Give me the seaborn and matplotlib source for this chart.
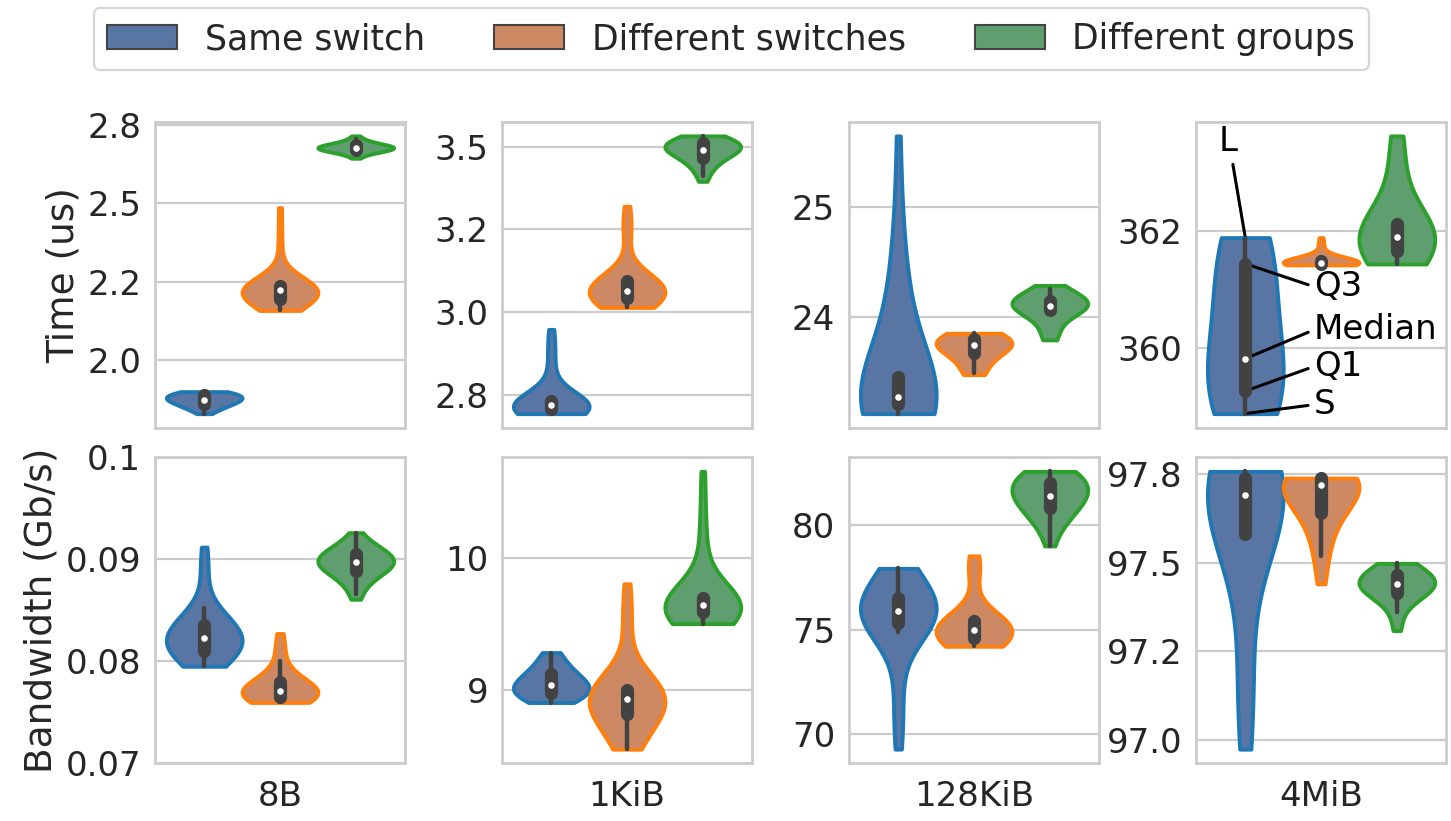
import numpy as np
import pandas as pd
import matplotlib
matplotlib.use("Agg")
import matplotlib.pyplot as plt
import matplotlib.cbook as cbook
from matplotlib.patches import Patch
import seaborn as sns

groups = ["Same switch", "Different switches", "Different groups"]
sizes = ["8B", "1KiB", "128KiB", "4MiB"]
metrics = ["Time (us)", "Bandwidth (Gb/s)"]

# Measured samples as (value, number of runs) pairs
time_8b_same = [(1.831, 1), (1.842, 2), (1.852, 3), (1.861, 3), (1.869, 4), (1.876, 4),
                (1.882, 3), (1.887, 3), (1.892, 3), (1.897, 3), (1.901, 2)]
time_8b_diff_sw = [(2.159, 2), (2.17, 2), (2.182, 3), (2.195, 3), (2.207, 4), (2.218, 4),
                   (2.228, 6), (2.236, 5), (2.245, 4), (2.33, 1), (2.40, 1), (2.486, 1)]
time_8b_diff_grp = [(2.643, 1), (2.655, 2), (2.663, 3), (2.669, 5), (2.674, 6), (2.679, 6),
                    (2.685, 5), (2.692, 3), (2.703, 2), (2.714, 1)]

time_1k_same = [(2.695, 3), (2.702, 4), (2.708, 4), (2.714, 4), (2.72, 4), (2.726, 4),
                (2.732, 3), (2.738, 2), (2.79, 1), (2.83, 1), (2.87, 1), (2.91, 1), (2.949, 1)]
time_1k_diff_sw = [(3.015, 2), (3.025, 3), (3.035, 3), (3.045, 4), (3.055, 4), (3.065, 4),
                   (3.075, 4), (3.085, 3), (3.095, 3), (3.105, 3), (3.22, 1), (3.25, 1),
                   (3.28, 1), (3.32, 1)]
time_1k_diff_grp = [(3.395, 1), (3.41, 1), (3.43, 2), (3.45, 3), (3.465, 3), (3.478, 4),
                    (3.49, 5), (3.50, 6), (3.51, 5), (3.52, 4), (3.532, 3)]

time_128k_same = [(23.118, 3), (23.15, 3), (23.18, 4), (23.21, 4), (23.24, 4), (23.27, 3),
                  (23.30, 3), (23.33, 3), (23.36, 2), (23.40, 1), (23.45, 1), (23.85, 1),
                  (23.95, 1), (24.05, 1), (24.12, 1), (24.2, 1), (24.3, 1), (24.45, 1),
                  (24.7, 1), (25.1, 1), (25.648, 1)]
time_128k_diff_sw = [(23.473, 1), (23.49, 2), (23.51, 2), (23.55, 1), (23.60, 1), (23.64, 2),
                     (23.68, 3), (23.71, 4), (23.74, 4), (23.77, 5), (23.80, 5), (23.83, 4),
                     (23.85, 2)]
time_128k_diff_grp = [(23.79, 1), (23.82, 2), (23.86, 1), (23.91, 1), (23.94, 1), (24.05, 3),
                      (24.08, 4), (24.10, 5), (24.12, 5), (24.14, 4), (24.17, 3), (24.21, 2),
                      (24.25, 2), (24.286, 1)]

time_4m_same = [(358.89, 2), (359.0, 3), (359.1, 3), (359.2, 2), (359.3, 3), (359.45, 3),
                (359.6, 2), (359.75, 2), (359.9, 1), (360.1, 1), (360.3, 1), (360.5, 1),
                (360.7, 1), (360.9, 1), (361.05, 1), (361.2, 1), (361.32, 1), (361.42, 1),
                (361.5, 2), (361.6, 2), (361.7, 2), (361.8, 2), (361.885, 2)]
time_4m_diff_sw = [(361.42, 6), (361.44, 8), (361.46, 8), (361.48, 6), (361.5, 4), (361.55, 2),
                   (361.6, 1), (361.7, 1), (361.8, 1), (361.885, 1)]
time_4m_diff_grp = [(361.436, 2), (361.5, 2), (361.58, 3), (361.66, 3), (361.74, 3),
                    (361.82, 3), (361.9, 3), (361.97, 3), (362.04, 3), (362.11, 3),
                    (362.18, 3), (362.85, 1), (363.0, 1), (363.2, 1), (363.4, 1), (363.615, 2)]

bw_8b_same = [(0.0795, 2), (0.0800, 2), (0.0805, 3), (0.0810, 3), (0.0815, 4), (0.0820, 4),
              (0.0825, 4), (0.0830, 3), (0.0836, 3), (0.0842, 2), (0.0848, 2), (0.0852, 1),
              (0.0880, 1), (0.0895, 1), (0.0912, 1)]
bw_8b_diff_sw = [(0.07595, 3), (0.0762, 4), (0.0765, 4), (0.0768, 4), (0.0771, 4), (0.0774, 3),
                 (0.0777, 3), (0.0781, 2), (0.0786, 2), (0.0792, 1), (0.0800, 1), (0.0809, 1),
                 (0.0818, 1), (0.08272, 1)]
bw_8b_diff_grp = [(0.08608, 1), (0.0866, 1), (0.0872, 1), (0.0878, 2), (0.0884, 3), (0.0889, 4),
                  (0.0893, 4), (0.0897, 5), (0.0901, 5), (0.0905, 4), (0.0909, 3), (0.0913, 2),
                  (0.0918, 2), (0.09262, 1)]

bw_1k_same = [(8.905, 2), (8.93, 3), (8.95, 3), (8.98, 4), (9.01, 4), (9.04, 4), (9.07, 3),
              (9.10, 3), (9.14, 3), (9.18, 2), (9.23, 2), (9.283, 2)]
bw_1k_diff_sw = [(8.552, 2), (8.62, 2), (8.69, 2), (8.76, 3), (8.82, 3), (8.88, 3), (8.93, 4),
                 (8.97, 5), (9.0, 5), (9.03, 4), (9.40, 1), (9.52, 1), (9.66, 1), (9.804, 1)]
bw_1k_diff_grp = [(9.502, 2), (9.53, 3), (9.56, 3), (9.59, 4), (9.62, 4), (9.645, 4), (9.67, 4),
                  (9.70, 3), (9.72, 3), (9.95, 1), (10.05, 1), (10.2, 1), (10.4, 1),
                  (10.655, 1)]

bw_128k_same = [(69.30, 1), (70.2, 1), (71.2, 1), (72.2, 1), (73.1, 1), (74.9, 2), (75.1, 2),
                (75.3, 3), (75.5, 3), (75.7, 3), (75.9, 3), (76.1, 3), (76.3, 3), (76.5, 2),
                (76.8, 2), (77.2, 2), (77.6, 2), (77.93, 2)]
bw_128k_diff_sw = [(74.21, 3), (74.4, 3), (74.6, 4), (74.8, 4), (75.0, 4), (75.2, 4), (75.4, 3),
                   (75.6, 3), (77.6, 1), (77.9, 1), (78.2, 1), (78.53, 1)]
bw_128k_diff_grp = [(79.0, 1), (79.5, 1), (80.0, 2), (80.4, 3), (80.8, 3), (81.1, 4), (81.4, 4),
                    (81.7, 4), (82.0, 4), (82.3, 4), (82.56, 4)]

bw_4m_same = [(96.973, 1), (97.04, 1), (97.1, 1), (97.16, 1), (97.22, 1), (97.28, 1),
              (97.57, 3), (97.61, 3), (97.65, 3), (97.69, 4), (97.72, 5), (97.74, 5),
              (97.758, 5)]
bw_4m_diff_sw = [(97.44, 1), (97.48, 1), (97.52, 1), (97.56, 2), (97.60, 2), (97.64, 3),
                 (97.67, 3), (97.70, 4), (97.72, 6), (97.739, 12)]
bw_4m_diff_grp = [(97.308, 1), (97.33, 1), (97.36, 1), (97.39, 2), (97.41, 4), (97.425, 5),
                  (97.44, 6), (97.455, 5), (97.47, 4), (97.485, 3), (97.498, 2)]

# Y tick positions and labels per panel (row-major)
yticks = [[2.0, 2.25, 2.5, 2.75], [2.75, 3.0, 3.25, 3.5], [24, 25], [360, 362],
          [0.07, 0.08, 0.09, 0.1], [9, 10], [70, 75, 80], [97.0, 97.25, 97.5, 97.75]]
yticklabels = [["2.0", "2.2", "2.5", "2.8"], ["2.8", "3.0", "3.2", "3.5"], ["24", "25"],
               ["360", "362"], ["0.07", "0.08", "0.09", "0.1"], ["9", "10"],
               ["70", "75", "80"], ["97.0", "97.2", "97.5", "97.8"]]
ylims = [None, None, None, None, (0.07, 0.1), None, None, None]
# KDE bandwidth multiplier per panel
bw_adjusts = [1.4, 1.4, 1.7, 1.8, 1.4, 1.4, 1.4, 1.6]

panels = {
    ("Time (us)", "8B"): [time_8b_same, time_8b_diff_sw, time_8b_diff_grp],
    ("Time (us)", "1KiB"): [time_1k_same, time_1k_diff_sw, time_1k_diff_grp],
    ("Time (us)", "128KiB"): [time_128k_same, time_128k_diff_sw, time_128k_diff_grp],
    ("Time (us)", "4MiB"): [time_4m_same, time_4m_diff_sw, time_4m_diff_grp],
    ("Bandwidth (Gb/s)", "8B"): [bw_8b_same, bw_8b_diff_sw, bw_8b_diff_grp],
    ("Bandwidth (Gb/s)", "1KiB"): [bw_1k_same, bw_1k_diff_sw, bw_1k_diff_grp],
    ("Bandwidth (Gb/s)", "128KiB"): [bw_128k_same, bw_128k_diff_sw, bw_128k_diff_grp],
    ("Bandwidth (Gb/s)", "4MiB"): [bw_4m_same, bw_4m_diff_sw, bw_4m_diff_grp],
}

rows = []
for (metric, size), triplet in panels.items():
    for grp, pairs in zip(groups, triplet):
        vals = [p[0] for p in pairs]
        cnts = [p[1] for p in pairs]
        for v in np.repeat(vals, cnts):
            rows.append((metric, size, grp, float(v)))
df = pd.DataFrame(rows, columns=["metric", "size", "group", "value"])

sns.set_theme(style="whitegrid")
plt.rcParams.update({
    "font.family": ["DejaVu Sans"],
    "axes.edgecolor": ".8",
    "axes.linewidth": 2.0,
    "grid.color": ".8",
    "grid.linewidth": 1.6,
    "text.color": ".15",
    "axes.labelcolor": ".15",
    "xtick.color": ".15",
    "ytick.color": ".15",
    "xtick.major.size": 0,
    "ytick.major.size": 0,
    "xtick.major.pad": 12,
    "ytick.major.pad": 10,
    "xtick.labelsize": 24.5,
    "ytick.labelsize": 24.5,
    "axes.labelsize": 27,
})

deep = sns.color_palette("deep", 3)
fills = [sns.desaturate(c, 0.75) for c in deep]
edges = sns.color_palette("tab10", 3)
box_color = "#424242"

fig, axes = plt.subplots(2, 4, figsize=(14.51, 8.21), dpi=100)
fig.subplots_adjust(left=0.1068, right=0.9966, top=0.8514, bottom=0.0706,
                    wspace=0.388, hspace=0.098)

box_stats = {}
centers_all = {}
for r, metric in enumerate(metrics):
    for c, size in enumerate(sizes):
        i = r * 4 + c
        ax = axes[r, c]
        sub = df[(df["metric"] == metric) & (df["size"] == size)]
        sns.violinplot(data=sub, x="size", y="value", hue="group", hue_order=groups,
                       palette=deep, saturation=0.75, cut=0, inner=None,
                       bw_adjust=bw_adjusts[i], density_norm="width", linewidth=2.8,
                       ax=ax, legend=False)
        centers = {}
        for coll in ax.collections:
            fc = np.array(coll.get_facecolor()[0][:3])
            k = int(np.argmin([np.sum((fc - np.array(f)) ** 2) for f in fills]))
            coll.set_edgecolor(edges[k])
            verts = coll.get_paths()[0].vertices
            centers[k] = 0.5 * (verts[:, 0].min() + verts[:, 0].max())
        for k, grp in enumerate(groups):
            obs = sub.loc[sub["group"] == grp, "value"].to_numpy()
            st = cbook.boxplot_stats(obs)[0]
            x0 = centers[k]
            ax.plot([x0, x0], [st["whislo"], st["whishi"]], color=box_color, lw=3.2,
                    solid_capstyle="round", zorder=3)
            ax.plot([x0, x0], [st["q1"], st["q3"]], color=box_color, lw=9.5,
                    solid_capstyle="round", zorder=3)
            ax.scatter([x0], [st["med"]], s=38, color="white", edgecolor=box_color,
                       linewidth=1.4, zorder=4)
            box_stats[(r, c, k)] = st
        centers_all[(r, c)] = centers

        ax.set_yticks(yticks[i])
        ax.set_yticklabels(yticklabels[i])
        if ylims[i] is not None:
            ax.set_ylim(*ylims[i])
        ax.set_xlabel("")
        ax.set_ylabel(metric if c == 0 else "")
        if r == 0:
            ax.tick_params(axis="x", labelbottom=False)
        ax.xaxis.grid(False)
        for sp in ax.spines.values():
            sp.set_color(".8")
            sp.set_linewidth(2.0)

# Box-plot key on the 4MiB latency panel
ax = axes[0, 3]
st = box_stats[(0, 3, 0)]
x0 = centers_all[(0, 3)][0]
arrow = dict(arrowstyle="-", color="black", lw=2.2, shrinkA=2, shrinkB=0)
ax.annotate("L", xy=(x0, st["whishi"]), xytext=(0.128, 0.935), textcoords="axes fraction",
            ha="center", va="center", fontsize=24.5, color="black", zorder=2.9,
            arrowprops=dict(arrow, relpos=(0.7, 0.0)))
for label, key, ty in [("Q3", "q3", 0.461), ("Median", "med", 0.320),
                       ("Q1", "q1", 0.200), ("S", "whislo", 0.075)]:
    ax.annotate(label, xy=(x0, st[key]), xytext=(0.472, ty), textcoords="axes fraction",
                ha="left", va="center", fontsize=24.5, color="black", zorder=2.9,
                arrowprops=dict(arrow, relpos=(0.0, 0.5)))

handles = [Patch(facecolor=fills[k], edgecolor="#444444", linewidth=1.5, label=g)
           for k, g in enumerate(groups)]
leg = fig.legend(handles=handles, loc="upper center", bbox_to_anchor=(0.504, 0.990),
                 ncol=3, fontsize=25, frameon=True, fancybox=True, borderaxespad=0.0,
                 handlelength=2.0, handleheight=0.7, handletextpad=0.8,
                 columnspacing=2.0, borderpad=0.4)
leg.get_frame().set_edgecolor(".8")
leg.get_frame().set_linewidth(1.6)

fig.savefig("out.png", dpi=100)
